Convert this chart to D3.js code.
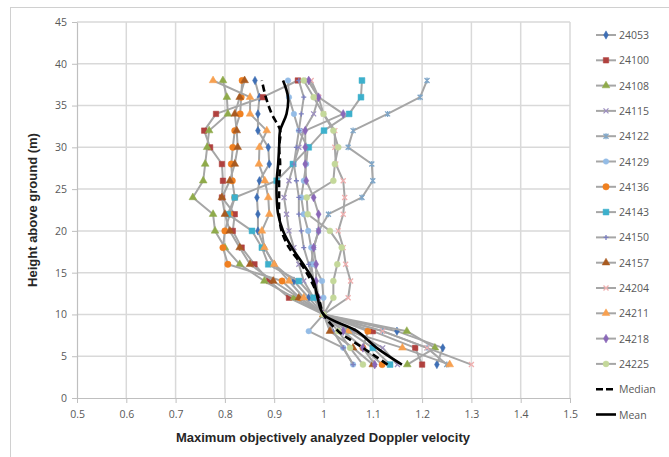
<!DOCTYPE html>
<html><head><meta charset="utf-8">
<script src="https://cdn.jsdelivr.net/npm/d3@7"></script>
<style>body{margin:0;background:#fff;} svg{display:block;}</style>
</head><body>
<svg id="c" width="669" height="457"></svg>
<script>
const heights = [4,6,8,10,12,14,16,18,20,22,24,26,28,30,32,34,36,38];
const xTicks = [0.5,0.6,0.7,0.8,0.9,1,1.1,1.2,1.3,1.4,1.5];
const yTicks = [0,5,10,15,20,25,30,35,40,45];
const seriesNames = ["24053","24100","24108","24115","24122","24129","24136","24143","24150","24157","24204","24211","24218","24225"];
const s24053 = [1.23,1.242,1.149,1,0.97,0.94,0.90,0.88,0.867,0.867,0.865,0.87,0.89,0.888,0.867,0.867,0.87,0.861];
const s24100 = [1.20,1.186,1.10,1,0.93,0.89,0.86,0.834,0.816,0.82,0.794,0.796,0.794,0.77,0.758,0.782,0.877,0.948];
const s24108 = [1.17,1.226,1.169,1,0.94,0.88,0.83,0.80,0.78,0.776,0.735,0.756,0.76,0.764,0.768,0.806,0.804,0.796];
const s24115 = [1.15,1.12,1.06,1,0.98,0.96,0.95,0.94,0.93,0.925,0.92,0.93,0.94,0.95,0.96,0.98,0.99,0.968];
const s24122 = [1.25,1.21,1.12,1,0.985,0.98,0.975,0.98,0.99,1.01,1.078,1.10,1.098,1.05,1.06,1.13,1.196,1.21];
const s24129 = [1.06,1.04,0.97,1,1.0,0.997,0.98,0.975,0.969,0.96,0.955,0.96,0.965,0.968,0.95,0.94,0.93,0.928];
const s24136 = [1.119,1.08,1.09,1,0.952,0.916,0.806,0.796,0.80,0.81,0.82,0.815,0.813,0.816,0.82,0.831,0.833,0.835];
const s24143 = [1.135,1.10,1.05,1,0.98,0.95,0.888,0.875,0.855,0.806,0.82,0.905,0.938,0.97,1.001,1.052,1.076,1.078];
const s24150 = [1.06,1.04,1.02,1,0.99,0.98,0.97,0.96,0.955,0.95,0.95,0.945,0.94,0.945,0.95,0.955,0.96,0.95];
const s24157 = [1.10,1.06,1.013,1,0.95,0.898,0.851,0.83,0.81,0.80,0.794,0.81,0.82,0.826,0.824,0.82,0.83,0.84];
const s24204 = [1.30,1.21,1.12,1,1.05,1.055,1.045,1.04,1.03,1.04,1.043,1.04,1.025,1.023,1.023,1.0,0.99,0.975];
const s24211 = [1.256,1.16,1.05,1,0.96,0.93,0.90,0.88,0.875,0.89,0.888,0.881,0.869,0.87,0.885,0.851,0.851,0.776];
const s24218 = [1.104,1.08,1.04,1,0.99,0.985,0.985,0.98,0.99,0.99,0.98,0.965,0.963,0.963,0.963,1.04,0.99,0.97];
const s24225 = [1.08,1.054,1.03,1,1.02,1.02,1.028,1.037,1.013,0.968,0.966,1.02,1.023,1.03,1.02,1.0,0.98,0.96];
const median = [1.13,1.08,1.03,1,0.99,0.975,0.955,0.93,0.915,0.91,0.91,0.91,0.912,0.91,0.912,0.895,0.883,0.875];
const mean = [1.159,1.108,1.068,1,0.988,0.98,0.959,0.936,0.918,0.908,0.905,0.905,0.908,0.91,0.912,0.925,0.928,0.918];

const seriesValues = [s24053,s24100,s24108,s24115,s24122,s24129,s24136,s24143,s24150,s24157,s24204,s24211,s24218,s24225];
const colors = ["#3F6FB5","#B0413E","#8FAA4A","#9D8FC0","#7FA6C8","#94BCE6","#F08020","#3DB0CC","#7B7FC0","#A85A20","#F0B0B0","#F7A050","#8A68B8","#C4D89A"];
const markers = ["diamond","square","triangle","x","star","circle","circle","square","plus","triangle","x","triangle","diamond","circle"];
const msize = [20,30,26,16,16,24,32,34,16,26,16,26,22,28];

const svg = d3.select("#c");
const x = d3.scaleLinear().domain([0.5,1.5]).range([77,570]);
const y = d3.scaleLinear().domain([0,45]).range([398,22]);

svg.append("rect").attr("x",10.5).attr("y",7.5).attr("width",680).attr("height",480)
  .attr("fill","none").attr("stroke","#D0D0D0").attr("stroke-width",1);

const grid = svg.append("g");
yTicks.forEach(t=>{ if(t>0) grid.append("line").attr("x1",x(0.5)).attr("x2",x(1.5)).attr("y1",y(t)).attr("y2",y(t)).attr("stroke","#D9D9D9").attr("stroke-width",1.5); });
xTicks.forEach(t=>{ if(t>0.5) grid.append("line").attr("x1",x(t)).attr("x2",x(t)).attr("y1",y(0)).attr("y2",y(45)).attr("stroke","#D9D9D9").attr("stroke-width",1.5); });

const ax = svg.append("g").attr("transform",`translate(0,${y(0)})`)
  .call(d3.axisBottom(x).tickValues(xTicks).tickSize(5).tickSizeOuter(0).tickFormat(d=>String(d)));
const ay = svg.append("g").attr("transform",`translate(${x(0.5)},0)`)
  .call(d3.axisLeft(y).tickValues(yTicks).tickSize(5).tickSizeOuter(0).tickFormat(d=>String(d)));
[ax,ay].forEach(a=>{
  a.select(".domain").attr("stroke","#BFBFBF").attr("stroke-width",1.2);
  a.selectAll(".tick line").attr("stroke","#BFBFBF");
  a.selectAll("text").attr("fill","#595959").style("font-family","'Open Sans',sans-serif").style("font-size","10.5px");
});
ax.selectAll("text").attr("dy","1.1em");
ay.selectAll("text").attr("x",-10);

function markerPath(type, size){
  const r = Math.sqrt(size)/2+0.5;
  if(type==="x") return `M${-r},${-r}L${r},${r}M${-r},${r}L${r},${-r}`;
  if(type==="plus") return `M${-r},0L${r},0M0,${-r}L0,${r}`;
  if(type==="star") return `M${-r},${-r}L${r},${r}M${-r},${r}L${r},${-r}M0,${-r*1.2}L0,${r*1.2}`;
  const sym = {diamond:d3.symbolDiamond,square:d3.symbolSquare,triangle:d3.symbolTriangle,circle:d3.symbolCircle}[type];
  return d3.symbol().type(sym).size(size)();
}
function drawMarker(g, type, size, color, cx, cy){
  const p = g.append("path").attr("d",markerPath(type,size)).attr("transform",`translate(${cx},${cy})`);
  if(type==="x"||type==="plus"||type==="star") p.attr("fill","none").attr("stroke",color).attr("stroke-width",1.3);
  else p.attr("fill",color).attr("stroke",color).attr("stroke-width",0.5);
}

const line = d3.line().x(d=>x(d[0])).y(d=>y(d[1]));
const plot = svg.append("g");
seriesValues.forEach((vals,i)=>{
  const pts = vals.map((v,j)=>[v,heights[j]]);
  const g = plot.append("g");
  g.append("path").attr("d",line(pts)).attr("fill","none").attr("stroke","#A6A6A6").attr("stroke-width",2).attr("stroke-linejoin","round");
  pts.forEach(p=>drawMarker(g,markers[i],msize[i],colors[i],x(p[0]),y(p[1])));
});
const curve = d3.line().x(d=>x(d[0])).y(d=>y(d[1])).curve(d3.curveCatmullRom);
plot.append("path").attr("d",curve(median.map((v,j)=>[v,heights[j]]))).attr("fill","none").attr("stroke","#000").attr("stroke-width",2.6).attr("stroke-dasharray","7,4");
plot.append("path").attr("d",curve(mean.map((v,j)=>[v,heights[j]]))).attr("fill","none").attr("stroke","#000").attr("stroke-width",2.6);

// legend
const lg = svg.append("g");
const ly0 = 35, lstep = 25.3;
seriesNames.forEach((n,i)=>{
  const yy = ly0 + i*lstep;
  lg.append("line").attr("x1",596).attr("x2",616).attr("y1",yy).attr("y2",yy).attr("stroke","#A6A6A6").attr("stroke-width",2);
  drawMarker(lg,markers[i],msize[i],colors[i],606,yy);
  lg.append("text").attr("x",619).attr("y",yy+4).text(n).attr("fill","#595959").style("font-family","'Open Sans',sans-serif").style("font-size","10.5px");
});
[["Median","7,3"],["Mean",null]].forEach((d,k)=>{
  const yy = ly0 + (14+k)*lstep;
  const l = lg.append("line").attr("x1",596).attr("x2",616).attr("y1",yy).attr("y2",yy).attr("stroke","#000").attr("stroke-width",2.6);
  if(d[1]) l.attr("stroke-dasharray",d[1]);
  lg.append("text").attr("x",619).attr("y",yy+4).text(d[0]).attr("fill","#595959").style("font-family","'Open Sans',sans-serif").style("font-size","10.5px");
});

svg.append("text").attr("x",323).attr("y",442).attr("text-anchor","middle").text("Maximum objectively analyzed Doppler velocity")
  .style("font-family","'Liberation Sans',Arial,sans-serif").style("font-weight","bold").style("font-size","13px").attr("fill","#262626");
svg.append("text").attr("transform","translate(37,210) rotate(-90)").attr("text-anchor","middle").text("Height above ground (m)")
  .style("font-family","'Liberation Sans',Arial,sans-serif").style("font-weight","bold").style("font-size","13px").attr("fill","#262626");
</script>
</body></html>
